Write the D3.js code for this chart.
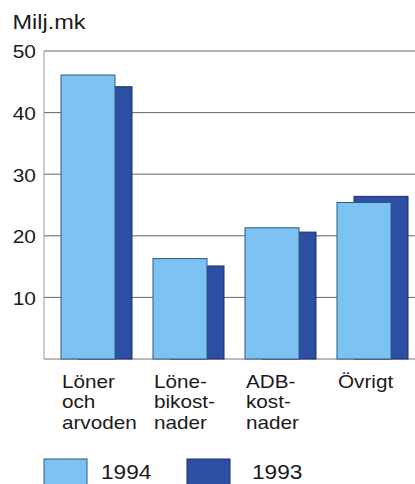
<!DOCTYPE html>
<html>
<head>
<meta charset="utf-8">
<script src="https://cdn.jsdelivr.net/npm/d3@7"></script>
<style>
  body { margin: 0; background: #fff; }
  text { font-family: "Liberation Sans", Arial, sans-serif; fill: #1a1a1a; }
</style>
</head>
<body>
<div id="chart"></div>
<script>
var categories = [["Löner", "och", "arvoden"], ["Löne-", "bikost-", "nader"], ["ADB-", "kost-", "nader"], ["Övrigt"]];
var values1994 = [46.1, 16.3, 21.3, 25.4];
var values1993 = [44.2, 15.1, 20.6, 26.4];
var yTicks = [10, 20, 30, 40, 50];
var years = ["1994", "1993"];

var width = 415, height = 484;
var light = "#7cc2f2", dark = "#2c4fa3";

// the printed font is a bit wider than Liberation Sans, so stretch text horizontally
function stretch(sel, s) {
    sel.attr("transform", function() {
        var x = +this.getAttribute("x") || 0;
        return "translate(" + (x * (1 - s)) + ",0) scale(" + s + ",1)";
    });
}

var svg = d3.select("#chart").append("svg")
    .attr("width", width)
    .attr("height", height);

var x = d3.scaleBand()
    .domain(d3.range(categories.length))
    .range([44, 412])
    .paddingInner(0)
    .paddingOuter(0);

var y = d3.scaleLinear()
    .domain([0, 50])
    .range([359, 51]);

// gridlines
svg.append("g").selectAll("line")
    .data(yTicks)
    .enter().append("line")
    .attr("x1", 44).attr("x2", width)
    .attr("y1", function(d) { return y(d); })
    .attr("y2", function(d) { return y(d); })
    .attr("stroke", "#666")
    .attr("stroke-width", 1);

// y axis
var yAxis = d3.axisLeft(y).tickValues(yTicks).tickSize(0).tickPadding(8);
var gy = svg.append("g").attr("transform", "translate(44,0)").call(yAxis);
gy.select(".domain").remove();
gy.selectAll("text")
    .style("font-size", "19px")
    .style("font-family", "'Liberation Sans', Arial, sans-serif")
    .attr("fill", "#1a1a1a")
    .attr("dy", "0.36em")
    .call(stretch, 1.1);

svg.append("line")
    .attr("x1", 44).attr("x2", 44)
    .attr("y1", y(50)).attr("y2", y(0))
    .attr("stroke", "#999");
svg.append("line")
    .attr("x1", 44).attr("x2", width)
    .attr("y1", y(0)).attr("y2", y(0))
    .attr("stroke", "#777");

svg.append("text")
    .attr("x", 12.5).attr("y", 29)
    .style("font-size", "21px")
    .text("Milj.mk")
    .call(stretch, 1.12);

var barW = 54, offset = 17, lead = 17;

// 1993 behind
svg.append("g").selectAll("rect")
    .data(values1993)
    .enter().append("rect")
    .attr("x", function(d, i) { return x(i) + lead + offset; })
    .attr("y", function(d) { return y(d); })
    .attr("width", barW)
    .attr("height", function(d) { return y(0) - y(d); })
    .attr("fill", dark)
    .attr("stroke", "#1d2f66")
    .attr("stroke-width", 1);

// 1994 in front
svg.append("g").selectAll("rect")
    .data(values1994)
    .enter().append("rect")
    .attr("x", function(d, i) { return x(i) + lead; })
    .attr("y", function(d) { return y(d); })
    .attr("width", barW)
    .attr("height", function(d) { return y(0) - y(d); })
    .attr("fill", light)
    .attr("stroke", "#2d5a80")
    .attr("stroke-width", 1);

// category labels
var labels = svg.append("g").selectAll("text")
    .data(categories)
    .enter().append("text")
    .attr("x", function(d, i) { return x(i) + lead + 1; })
    .attr("y", 388)
    .style("font-size", "18px");
labels.selectAll("tspan")
    .data(function(d, i) { return d.map(function(t) { return { t: t, i: i }; }); })
    .enter().append("tspan")
    .attr("x", function(d) { return x(d.i) + lead + 1; })
    .attr("dy", function(d, j) { return j ? 20.5 : 0; })
    .text(function(d) { return d.t; });
labels.call(stretch, 1.15);

// legend
var legend = svg.append("g").selectAll("g")
    .data(years)
    .enter().append("g")
    .attr("transform", function(d, i) { return "translate(" + (44 + i * 143) + ",459)"; });
legend.append("rect")
    .attr("width", 43).attr("height", 27)
    .attr("fill", function(d, i) { return i ? dark : light; })
    .attr("stroke", function(d, i) { return i ? "#1d2f66" : "#2d5a80"; });
legend.append("text")
    .attr("x", function(d, i) { return i ? 65 : 57; })
    .attr("y", 20)
    .style("font-size", "21px")
    .text(function(d) { return d; })
    .call(stretch, 1.08);
</script>
</body>
</html>
